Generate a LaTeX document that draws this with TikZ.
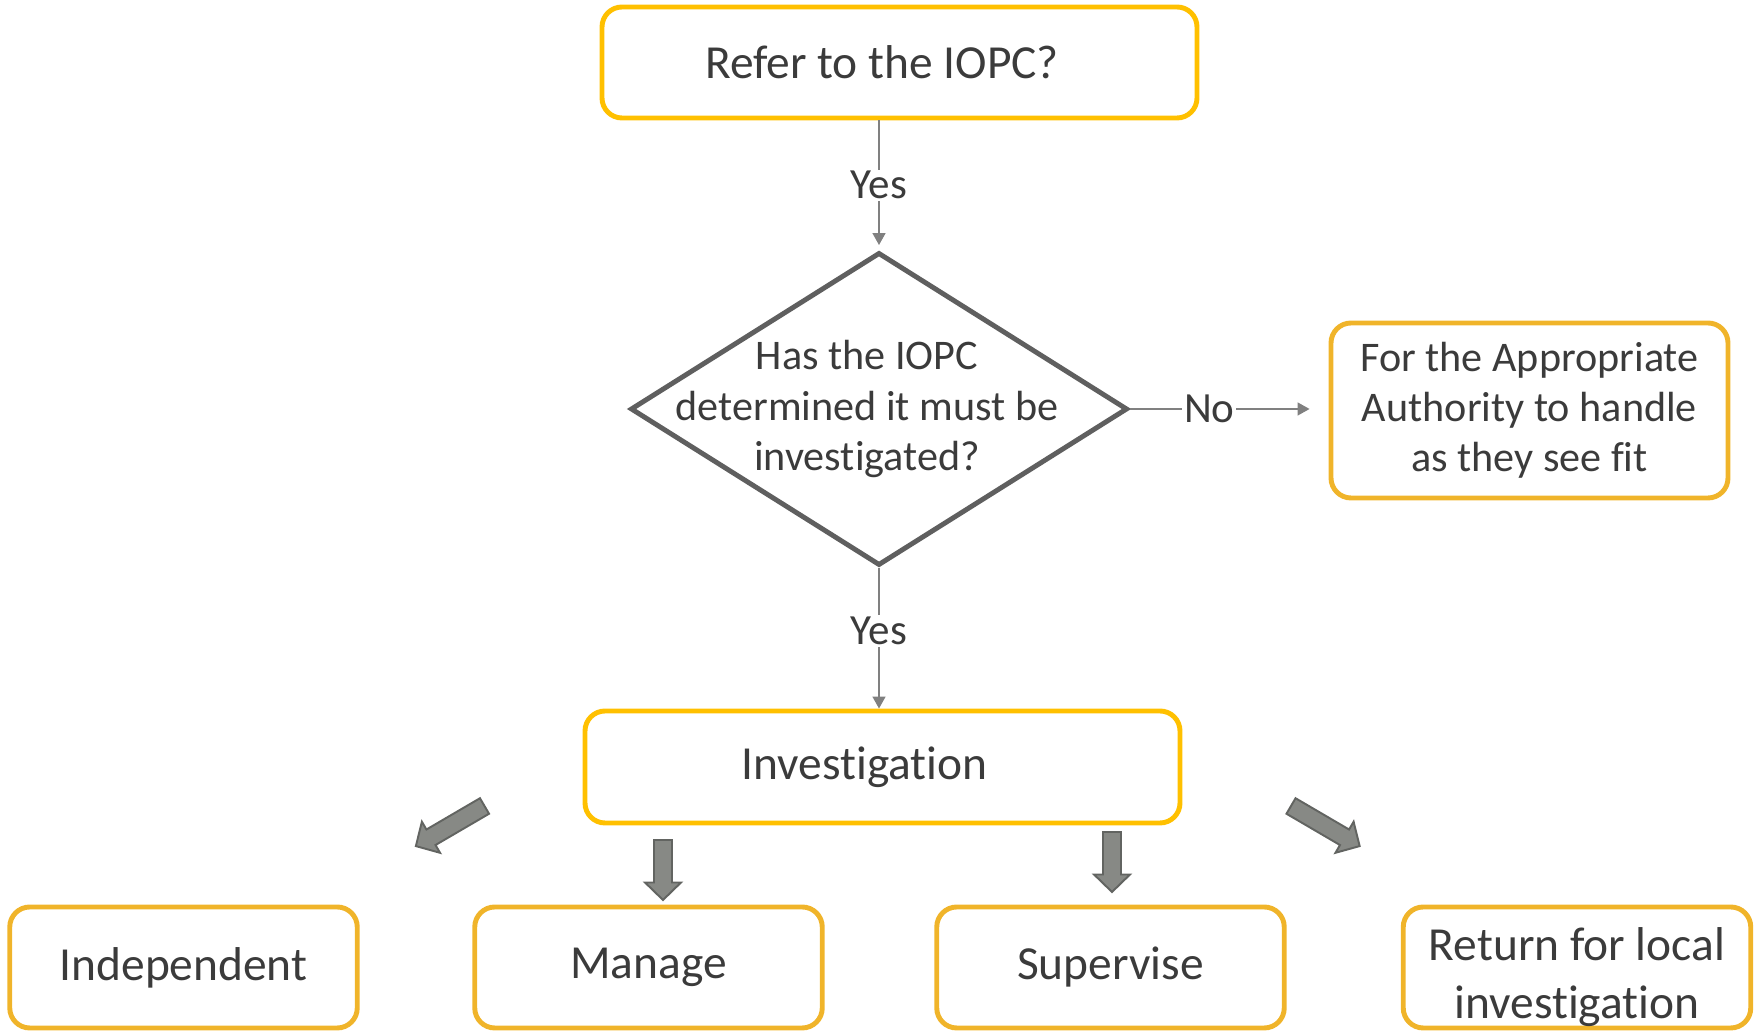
\documentclass[tikz,border=0pt]{standalone}
\usepackage{fontspec}
\setmainfont{Carlito}[Ligatures={NoCommon,NoRare,NoContextual}]
\usetikzlibrary{arrows.meta,shapes.geometric}
\definecolor{boxgold}{HTML}{FFC000}
\definecolor{boxamber}{HTML}{F0B42A}
\definecolor{inkgray}{HTML}{3B3B3B}
\definecolor{linegray}{HTML}{808080}
\definecolor{diagray}{HTML}{5F5F5F}
\definecolor{blockfill}{HTML}{878985}
\definecolor{blockedge}{HTML}{626461}

\begin{document}
\begin{tikzpicture}[
  box/.style={draw=boxgold, line width=2.8pt, rounded corners=0.4cm, minimum width=11.9cm, minimum height=2.22cm, text=inkgray, font=\fontsize{27}{32}\selectfont},
  outcome/.style={box, draw=boxamber, minimum width=6.95cm, minimum height=2.42cm, align=center},
  decision/.style={diamond, draw=diagray, line width=2.8pt, minimum width=9.94cm, minimum height=6.26cm, inner sep=0pt},
  conn/.style={draw=linegray, line width=0.9pt, -{Triangle[width=0.26cm,length=0.24cm]}},
  lbl/.style={midway, fill=white, text=inkgray, font=\fontsize{24.5}{28}\selectfont, inner sep=1pt},
  pics/block/.style={code={
    \draw[fill=blockfill, draw=blockedge, line width=1.1pt]
      (0,-0.18) -- (#1-0.35,-0.18) -- (#1-0.35,-0.36) -- (#1,0)
      -- (#1-0.35,0.36) -- (#1-0.35,0.18) -- (0,0.18) -- cycle;}}
]
\useasboundingbox (0,0) rectangle (35.1,20.62);

% Nodes
\node[box] (top) at (17.99, 19.37) {Refer to the IOPC?\kern0.7cm};
\node[decision] (dia) at (17.58, 12.44)
  [label={[align=center, text=inkgray, font=\fontsize{24}{28.5}\selectfont, xshift=-0.24cm]center:Has the IOPC\\determined it must be\\investigated?}] {};
\node[box, draw=boxamber, minimum width=7.94cm, minimum height=3.5cm, align=center, font=\fontsize{24}{28.5}\selectfont] (apa) at (30.59, 12.41)
  {For the Appropriate\\Authority to handle\\as they see fit};
\node[box, minimum height=2.24cm] (inv) at (17.65, 5.28) {Investigation\kern0.72cm};

\node[outcome] (indep) at (3.67, 1.27) {Independent};
\node[outcome] (manage) at (12.97, 1.27) {Manage};
\node[outcome] (superv) at (22.21, 1.27) {Supervise};
\node[outcome] (retlocal) at (31.54, 1.27)
  [label={[align=center, text=inkgray, font=\fontsize{27}{33}\selectfont, yshift=-0.2cm]center:Return for local\\investigation}] {};

% Connectors with labels
\draw[conn, shorten >=0.1cm] (dia.north |- top.south) -- node[lbl] {Yes} (dia.north);
\draw[conn, shorten >=0.38cm] (dia.east) -- node[lbl, pos=0.4] {No} (apa.west |- dia.east);
\draw[conn] (dia.south) -- node[lbl, pos=0.45] {Yes} (dia.south |- inv.north);

% Block arrows
\pic[rotate=210.3] at (9.69, 4.50) {block=1.59};
\pic[rotate=-90] at (13.26, 3.82) {block=1.2};
\pic[rotate=-90] at (22.24, 3.98) {block=1.2};
\pic[rotate=-30.3] at (25.82, 4.50) {block=1.59};

\end{tikzpicture}
\end{document}
